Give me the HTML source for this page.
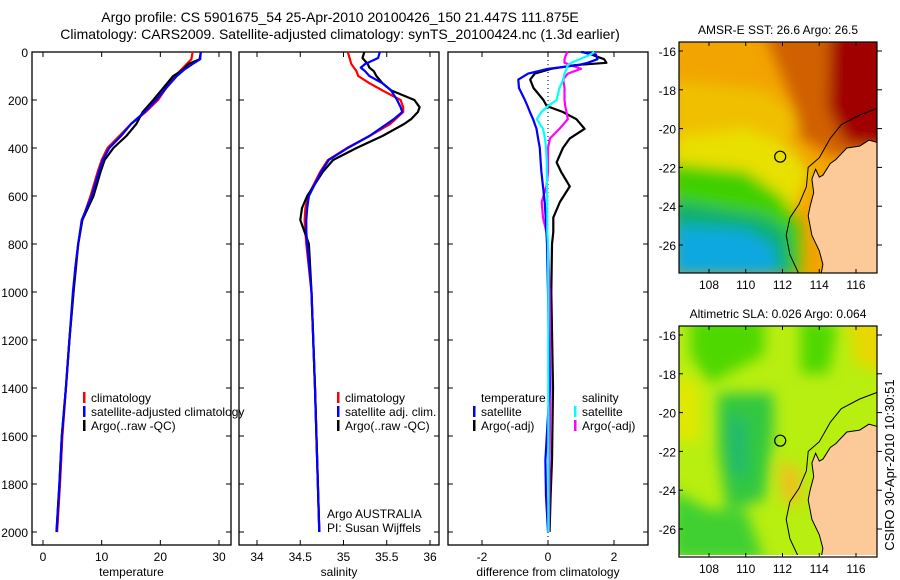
<!DOCTYPE html>
<html><head><meta charset="utf-8">
<style>
html,body{margin:0;padding:0;background:#fff;}
svg{display:block;font-family:"Liberation Sans",sans-serif;}
</style></head>
<body>
<svg id="fig" width="900" height="580" viewBox="0 0 900 580" xmlns="http://www.w3.org/2000/svg">
<defs>
<filter id="blur1" x="-20%" y="-20%" width="140%" height="140%"><feGaussianBlur stdDeviation="7"/></filter>
<filter id="blur2" x="-20%" y="-20%" width="140%" height="140%"><feGaussianBlur stdDeviation="9"/></filter>
<clipPath id="clipSST"><rect x="679" y="42" width="198" height="231"/></clipPath>
<clipPath id="clipSLA"><rect x="679" y="326" width="198" height="229"/></clipPath>
</defs>
<text x="340" y="22" font-size="14" text-anchor="middle">Argo profile: CS 5901675_54 25-Apr-2010 20100426_150 21.447S 111.875E</text>
<text x="340" y="39" font-size="14" text-anchor="middle">Climatology: CARS2009. Satellite-adjusted climatology: synTS_20100424.nc (1.3d earlier)</text>
<g id="panels"></g>
<g id="maps"></g>
<text transform="translate(894,465) rotate(-90)" font-size="13" text-anchor="middle">CSIRO 30-Apr-2010 10:30:51</text>
</svg>
<script>
// ---------- DATA ----------
const tempDepths = [0,30,50,75,100,150,200,250,300,350,400,450,500,600,700,800,900,1000,1200,1400,1600,1800,2000];
const tempClim   = [25.5,25.3,24.5,23.5,22.5,21,19.6,17.5,15,13,11,10,9.3,8.1,6.7,6,5.5,5.2,4.5,3.9,3.3,2.9,2.4];
const tempSat    = [26.9,26.8,25.5,24,22.8,21,19.3,17.3,15,13.3,11.3,10.2,9.5,8.3,6.6,6,5.5,5.1,4.5,3.9,3.2,2.8,2.3];
const tempArgo   = [26.9,26.7,24.8,23.8,22.2,20.5,18.8,17,15.9,14.2,12,10.5,9.8,8.6,6.7,6,5.6,5.2,4.5,3.9,3.2,2.8,2.3];

const salDepths = [0,25,50,65,80,100,130,160,200,230,250,280,300,350,400,450,500,600,650,700,750,800,1000,1400,2000];
const salClim   = [35.05,35.07,35.09,35.12,35.15,35.17,35.3,35.45,35.66,35.69,35.69,35.6,35.54,35.3,35.04,34.82,34.73,34.59,34.56,34.55,34.56,34.57,34.63,34.67,34.72];
const salSat    = [35.42,35.4,35.25,35.2,35.25,35.3,35.45,35.55,35.62,35.66,35.68,35.58,35.5,35.3,35.05,34.83,34.74,34.6,34.58,34.57,34.57,34.58,34.63,34.67,34.72];
const salArgo   = [35.24,35.22,35.28,35.3,35.35,35.38,35.45,35.55,35.82,35.88,35.86,35.78,35.7,35.45,35.15,34.88,34.76,34.58,34.52,34.5,34.55,34.6,34.63,34.67,34.72];

const diffDepths   = [0,10,30,45,55,70,90,115,150,200,225,250,280,320,360,400,460,500,560,625,690,750,800,1000,1400,1700,1850,2000];
const dTempSat     = [1.0,1.45,1.5,1.2,0.9,0,-0.6,-0.9,-0.88,-0.7,-0.62,-0.55,-0.45,-0.35,-0.3,-0.25,-0.22,-0.2,-0.15,-0.1,-0.07,-0.05,-0.03,0,0.05,-0.08,-0.06,0];
const dTempArgo    = [1.05,1.3,1.7,1.77,0.8,0.1,-0.4,-0.54,-0.44,-0.14,-0.04,0.45,0.86,1.11,0.66,0.45,0.26,0.4,0.66,0.36,0.16,0.16,0.12,0.1,0.15,0.12,0.08,0.05];
const dSalSat      = [1.4,1.3,0.96,0.7,0.6,0.56,0.5,0.46,0.35,0.26,0.0,-0.2,-0.34,-0.15,-0.09,-0.06,-0.04,-0.04,-0.03,-0.02,-0.02,-0.02,0,0.01,0.01,0.01,0.01,0.01];
const dSalArgo     = [0.6,0.55,0.5,0.5,0.7,1.0,0.6,0.46,0.5,0.5,0.52,0.56,0.6,0.35,0.06,0.0,0.0,0.0,-0.05,-0.19,-0.15,-0.05,0.0,0.05,0.07,0.05,0.04,0.03];

const depthTicks = [0,200,400,600,800,1000,1200,1400,1600,1800,2000];
const tempTicks = [0,10,20,30];
const salTicks = [34,34.5,35,35.5,36];
const salTickLabels = ["34","34.5","35","35.5","36"];
const diffTicks = [-2,0,2];

// ---------- HELPERS ----------
const NS = "http://www.w3.org/2000/svg";
function mk(tag, attrs, parent){const e=document.createElementNS(NS,tag);for(const k in attrs)e.setAttribute(k,attrs[k]);parent.appendChild(e);return e;}
const TOP=52, BOT=545, DPX=0.24;
const yD = d => TOP + d*DPX;
function lin(d0,d1,p0,p1){return v => p0 + (v-d0)*(p1-p0)/(d1-d0);}
const panelsG = document.getElementById('panels');

function panel(name,x0,x1,xs,ticks,tickLabels,xlabel,leftLabels){
  const g = mk('g',{},panelsG);
  
  
  const r = mk('rect',{x:x0,y:TOP,width:x1-x0,height:BOT-TOP,fill:'none',stroke:'#000','stroke-width':1.3},g);
  
  
  depthTicks.forEach(d=>{
    mk('line',{x1:x0,x2:x0+5,y1:yD(d),y2:yD(d),stroke:'#000'},g);
    mk('line',{x1:x1-5,x2:x1,y1:yD(d),y2:yD(d),stroke:'#000'},g);
    if(leftLabels){
      const t=mk('text',{x:x0-4,y:yD(d)+5,'font-size':12,'text-anchor':'end'},g);
      t.textContent=d;
      
      
    }
  });
  ticks.forEach((v,i)=>{
    mk('line',{x1:xs(v),x2:xs(v),y1:BOT,y2:BOT-5,stroke:'#000'},g);
    mk('line',{x1:xs(v),x2:xs(v),y1:TOP,y2:TOP+5,stroke:'#000'},g);
    const t=mk('text',{x:xs(v),y:BOT+16,'font-size':12,'text-anchor':'middle'},g);
    t.textContent=tickLabels[i];
    
    
  });
  const xl=mk('text',{x:(x0+x1)/2,y:BOT+31,'font-size':12,'text-anchor':'middle'},g);
  xl.textContent=xlabel;
  
  
  return g;
}
function series(g,name,depths,vals,xs,color,w){
  const pts = depths.map((d,i)=>xs(vals[i]).toFixed(1)+','+yD(d).toFixed(1)).join(' ');
  const p = mk('polyline',{points:pts,fill:'none',stroke:color,'stroke-width':w||2.2,'stroke-linejoin':'round'},g);
  
  
}
function legend(g,x,y,color,label,name){
  if(color) mk('rect',{x:x,y:y-10,width:2.5,height:11,fill:color},g);
  const t=mk('text',{x:x+8,y:y,'font-size':12},g);
  t.textContent=label;
  
  
}

// Panel 1: temperature
const xT = lin(0,30,43,219);
const g1 = panel('temperature-panel',32,231,xT,tempTicks,tempTicks.map(String),'temperature',true);
series(g1,'temp-climatology-line',tempDepths,tempClim,xT,'#f00');
series(g1,'temp-argo-line',tempDepths,tempArgo,xT,'#000');
series(g1,'temp-satellite-line',tempDepths,tempSat,xT,'#00f');
legend(g1,83,402,'#f00','climatology','legend-climatology');
legend(g1,83,416,'#00f','satellite-adjusted climatology','legend-satellite-adjusted');
legend(g1,83,430,'#000','Argo(..raw -QC)','legend-argo');

// Panel 2: salinity
const xS = lin(34,36,257,430);
const g2 = panel('salinity-panel',239,439,xS,salTicks,salTickLabels,'salinity',false);
series(g2,'sal-climatology-line',salDepths,salClim,xS,'#f00');
series(g2,'sal-argo-line',salDepths,salArgo,xS,'#000');
series(g2,'sal-satellite-line',salDepths,salSat,xS,'#00f');
legend(g2,337,402,'#f00','climatology','legend-climatology');
legend(g2,337,416,'#00f','satellite adj. clim.','legend-satellite-adj');
legend(g2,337,430,'#000','Argo(..raw -QC)','legend-argo');
legend(g2,319,518,null,'Argo AUSTRALIA','credit-argo-australia');
legend(g2,319,532,null,'PI: Susan Wijffels','credit-pi');

// Panel 3: differences
const xDf = lin(0,2,548,614);
const g3 = panel('difference-panel',448,648,xDf,diffTicks,diffTicks.map(String),'difference from climatology',false);
mk('line',{x1:548,x2:548,y1:TOP,y2:BOT,stroke:'#000','stroke-dasharray':'1,3'},g3);
series(g3,'diff-temp-argo-line',diffDepths,dTempArgo,xDf,'#000');
series(g3,'diff-sal-argo-line',diffDepths,dSalArgo,xDf,'#f0f');
series(g3,'diff-temp-satellite-line',diffDepths,dTempSat,xDf,'#00f');
series(g3,'diff-sal-satellite-line',diffDepths,dSalSat,xDf,'#0ff');
legend(g3,473,402,null,'temperature','legend-temperature-header');
legend(g3,473,416,'#00f','satellite','legend-temp-satellite');
legend(g3,473,430,'#000','Argo(-adj)','legend-temp-argo');
legend(g3,574,402,null,'salinity','legend-salinity-header');
legend(g3,574,416,'#0ff','satellite','legend-sal-satellite');
legend(g3,574,430,'#f0f','Argo(-adj)','legend-sal-argo');

// ---------- MAPS ----------
const lonTicks=[108,110,112,114,116];
const latTicks=[-16,-18,-20,-22,-24,-26];
const landLonLat=[[117.3,-20.75],[116.7,-20.6],[116.2,-20.9],[115.5,-21.0],[114.9,-21.6],[114.6,-21.8],[114.2,-22.4],[114.0,-22.5],[113.8,-22.1],[113.6,-22.6],[113.7,-23.3],[113.5,-24.0],[113.4,-24.5],[113.6,-25.5],[114.0,-26.3],[114.2,-27.0],[114.1,-27.5],[117.3,-27.5]];
const shelfLonLat=[[117.3,-18.9],[116.2,-19.3],[115.2,-19.8],[114.6,-20.5],[114.0,-21.5],[113.4,-22.0],[113.3,-23.0],[112.9,-23.9],[112.4,-24.6],[112.2,-25.5],[112.4,-26.5],[112.9,-27.5]];
const floatLon=111.875, floatLat=-21.447;
const mapsG=document.getElementById('maps');

function map(name,top,title,blobs,base,clip){
  const g=mk('g',{},mapsG);
  
  
  const X=lin(108,116,709,856), Y=lin(-16,-26,top+9,top+203);
  const inner=mk('g',{'clip-path':'url(#'+clip+')'},g);
  mk('rect',{x:679,y:top,width:198,height:231,fill:base},inner);
  const bg=mk('g',{filter:'url(#blur1)'},inner);
  blobs.forEach(b=>{
    const pts=b.pts.map(p=>X(p[0]).toFixed(1)+','+Y(p[1]).toFixed(1)).join(' ');
    mk('polygon',{points:pts,fill:b.c},bg);
  });
  const land=mk('polygon',{points:landLonLat.map(p=>X(p[0]).toFixed(1)+','+Y(p[1]).toFixed(1)).join(' '),fill:'#fcca99',stroke:'#000','stroke-width':1},inner);
  
  
  const sh=mk('polyline',{points:shelfLonLat.map(p=>X(p[0]).toFixed(1)+','+Y(p[1]).toFixed(1)).join(' '),fill:'none',stroke:'#000','stroke-width':1},inner);
  
  
  const c=mk('circle',{cx:X(floatLon),cy:Y(floatLat),r:5.5,fill:'none',stroke:'#000','stroke-width':1.2},g);
  
  
  mk('rect',{x:679,y:top,width:198,height:231,fill:'none',stroke:'#000','stroke-width':1.2},g);
  lonTicks.forEach(l=>{
    mk('line',{x1:X(l),x2:X(l),y1:top,y2:top+4,stroke:'#000'},g);
    mk('line',{x1:X(l),x2:X(l),y1:top+231,y2:top+227,stroke:'#000'},g);
    const t=mk('text',{x:X(l),y:top+247,'font-size':12,'text-anchor':'middle'},g);
    t.textContent=l;
    
    
  });
  latTicks.forEach(l=>{
    mk('line',{x1:679,x2:683,y1:Y(l),y2:Y(l),stroke:'#000'},g);
    mk('line',{x1:877,x2:882,y1:Y(l),y2:Y(l),stroke:'#000'},g);
    const t=mk('text',{x:676,y:Y(l)+5,'font-size':12,'text-anchor':'end'},g);
    t.textContent=l;
    
    
  });
  const tt=mk('text',{x:778,y:top-8,'font-size':12,'text-anchor':'middle'},g);
  tt.textContent=title;
  
  
}

map('sst-map',42,'AMSR-E SST: 26.6 Argo: 26.5',[
  {c:'#f0c000',pts:[[106,-17.5],[111,-18],[113,-19.5],[112,-21],[106,-21]]},
  {c:'#e8e000',pts:[[106,-20.5],[110,-20],[112.5,-21],[113.5,-22.3],[112.5,-24.5],[110,-22.5],[106,-22]]},
  {c:'#40d000',pts:[[106,-21.8],[110,-22.2],[112,-23.5],[113,-25],[113,-27.6],[106,-27.6]]},
  {c:'#10b070',pts:[[106,-23.7],[111,-24.5],[112.3,-25.3],[112.5,-27.6],[106,-27.6]]},
  {c:'#10a8e0',pts:[[106,-25],[110,-25.2],[111.5,-26],[111.8,-27.6],[106,-27.6]]},
  {c:'#d06000',pts:[[111,-15],[118,-15],[118,-21],[115,-21.5],[113,-20.5],[112.5,-18.5]]},
  {c:'#a00000',pts:[[114.6,-15],[118,-15],[118,-21],[115.5,-20.8],[114.5,-19]]}
],'#f2a400','clipSST');

map('sla-map',326,'Altimetric SLA: 0.026 Argo: 0.064',[
  {c:'#50d800',pts:[[107,-15],[111,-15],[111,-17],[108,-18.5],[107,-17]]},
  {c:'#50d800',pts:[[113,-15],[115,-15.5],[114.5,-18],[113,-18]]},
  {c:'#30c840',pts:[[108.5,-19],[111.5,-19],[111.5,-21],[111,-24.5],[109,-25],[108.5,-22]]},
  {c:'#20b870',pts:[[109,-20],[110,-20.5],[110,-23.5],[109.2,-23]]},
  {c:'#40d030',pts:[[106,-24],[108,-25],[110,-25],[111,-27.6],[106,-27.6]]},
  {c:'#f0c020',pts:[[111.8,-22.5],[113,-23],[113,-24.8],[112,-24.5]]},
  {c:'#e8d800',pts:[[115.5,-15],[118,-15],[118,-18],[116,-17.5]]},
  {c:'#e0e800',pts:[[106,-18],[107.5,-18.5],[107.5,-21.5],[106,-21.5]]}
],'#b8ee10','clipSLA');
</script>
</body></html>
